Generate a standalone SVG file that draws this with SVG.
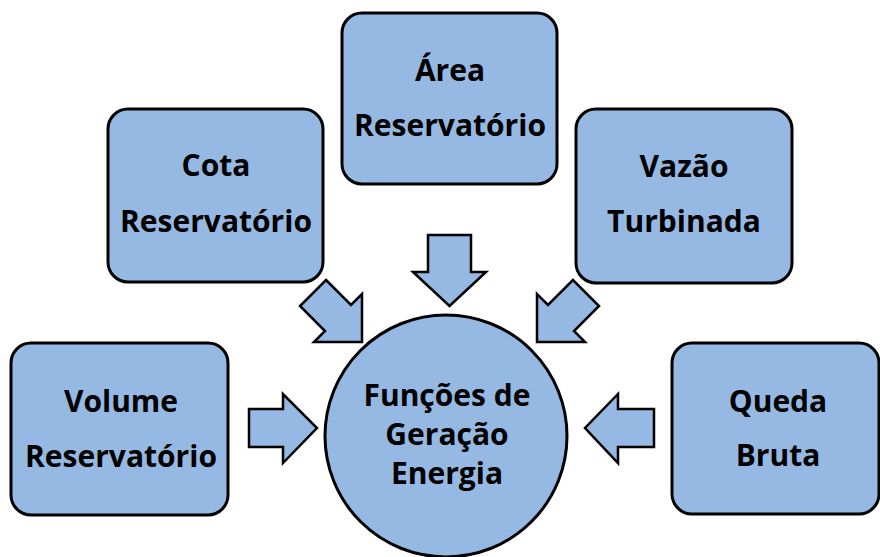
<svg xmlns="http://www.w3.org/2000/svg" width="880" height="557" viewBox="0 0 880 557">
<style>
.n{fill:#95B9E2;stroke:#000;stroke-width:3;}
.a{fill:#95B9E2;stroke:#000;stroke-width:2.5;stroke-linejoin:miter;}
.t{font-family:"Open Sans","Liberation Sans",sans-serif;font-weight:bold;font-size:30px;fill:#000;text-anchor:middle;}
</style>
<rect width="880" height="557" fill="#fff"/>
<g id="connectors">
<polygon class="a" points="428,235 471,235 471,272 486,272 449.5,306 413,272 428,272"/>
<polygon class="a" points="326,280 351,305 362,294 362,342 314,342 325,331 300,306"/>
<polygon class="a" points="573,280 548,305 537,294 537,342 585,342 574,331 599,306"/>
<polygon class="a" points="249,409 283,409 283,394 317,428 283,463 283,447 249,447"/>
<polygon class="a" points="654,409 618,409 618,394 585,428 618,463 618,447 654,447"/>
</g>
<g id="area">
<rect class="n" x="342" y="13" width="215" height="171" rx="20"/>
<text class="t" x="450" y="81">Área</text>
<text class="t" x="450" y="136">Reservatório</text>
</g>
<g id="cota">
<rect class="n" x="108" y="109" width="215" height="173" rx="20"/>
<text class="t" x="216" y="176">Cota</text>
<text class="t" x="216" y="232">Reservatório</text>
</g>
<g id="vazao">
<rect class="n" x="576" y="109" width="216" height="174" rx="20"/>
<text class="t" x="684" y="177">Vazão</text>
<text class="t" x="684" y="232">Turbinada</text>
</g>
<g id="volume">
<rect class="n" x="11" y="343" width="217" height="172" rx="20"/>
<text class="t" x="121" y="412">Volume</text>
<text class="t" x="121" y="467">Reservatório</text>
</g>
<g id="queda">
<rect class="n" x="672" y="343" width="207" height="171" rx="20"/>
<text class="t" x="778" y="412">Queda</text>
<text class="t" x="778" y="466">Bruta</text>
</g>
<g id="funcoes">
<circle class="n" cx="446" cy="436" r="121"/>
<text class="t" x="447" y="406">Funções de</text>
<text class="t" x="447" y="445">Geração</text>
<text class="t" x="447" y="484">Energia</text>
</g>
</svg>
